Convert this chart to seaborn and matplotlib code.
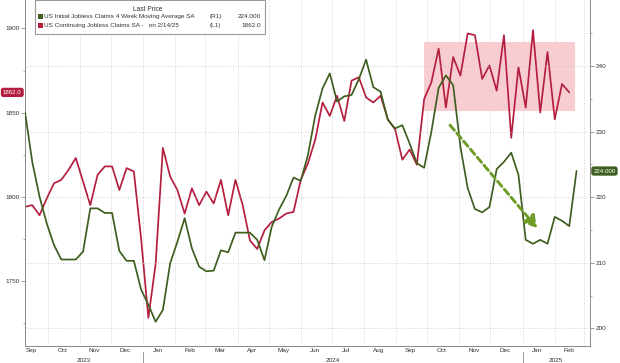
import pandas as pd
import matplotlib
matplotlib.use("Agg")
import matplotlib.pyplot as plt
import matplotlib.dates as mdates
import matplotlib.ticker as mticker
from matplotlib.patches import Rectangle
import seaborn as sns

# weekly values, starting week of 2023-09-09
continuing_claims = [
    1794, 1795, 1789, 1799, 1808, 1810, 1816, 1823, 1809, 1795,
    1813, 1818, 1818, 1804, 1817, 1815, 1775, 1728, 1760, 1829,
    1812, 1804, 1790, 1805, 1795, 1803, 1796, 1810, 1789, 1810,
    1795, 1774, 1769, 1780, 1785, 1787, 1790, 1791, 1810, 1820,
    1834, 1856, 1848, 1860, 1845, 1869, 1871, 1859, 1856, 1860,
    1846, 1840, 1822, 1828, 1819, 1858, 1868, 1888, 1853, 1883,
    1872, 1897, 1896, 1870, 1878, 1863, 1896, 1835, 1877, 1853,
    1899, 1850, 1886, 1846, 1867, 1862,
]
initial_claims_4wk = [
    233.0, 225.4, 220.1, 216.0, 212.7, 210.5, 210.5, 210.5, 211.7, 218.3,
    218.3, 217.6, 217.6, 211.8, 210.3, 210.3, 205.9, 203.6, 201.0, 202.8,
    209.9, 213.2, 216.8, 212.2, 209.4, 208.7, 208.8, 211.9, 211.6, 214.6,
    214.6, 214.6, 213.5, 210.4, 215.5, 218.1, 220.2, 223.0, 222.5, 226.5,
    232.5, 236.6, 238.9, 234.6, 235.4, 235.6, 238.0, 241.0, 236.8, 236.1,
    231.8, 230.5, 231.0, 228.2, 225.2, 224.5, 230.0, 236.7, 238.6, 237.1,
    227.7, 221.4, 218.2, 217.7, 218.5, 224.3, 225.4, 226.8, 223.4, 213.5,
    212.9, 213.5, 212.9, 217.0, 216.4, 215.6, 224.0,
]
first_week = "2023-09-09"
years = ["2023", "2024", "2025"]

# highlighted range and trend arrow
band_dates = ("2024-09-28", "2025-02-21")
band_levels = (1851, 1892)
arrow_from = ("2024-10-23", 231.0)
arrow_to = ("2025-01-15", 215.3)

GREEN = "#3e5f1f"
RED = "#b41f3f"
ARROW = "#6e9c26"
GRID = "#c4c4c4"
SPINE = "#8a8a8a"
TXT = "#333333"

sns.set_style("white")
plt.rcParams["font.family"] = ["Liberation Sans", "DejaVu Sans"]

df_red = pd.DataFrame({
    "date": pd.date_range(first_week, periods=len(continuing_claims), freq="7D"),
    "value": continuing_claims,
})
df_green = pd.DataFrame({
    "date": pd.date_range(first_week, periods=len(initial_claims_4wk), freq="7D"),
    "value": initial_claims_4wk,
})

W, H = 620, 363
fig = plt.figure(figsize=(W / 100, H / 100), dpi=100)
L, R, T, B = 25, 590, 0, 346
ax = fig.add_axes([L / W, 1 - B / H, (R - L) / W, (B - T) / H])
ax2 = ax.twinx()

# pink band behind the continuing claims
ax.fill_between(pd.to_datetime(list(band_dates)), band_levels[0], band_levels[1],
                color="#f7cdd2", lw=0, zorder=1)

sns.lineplot(data=df_red, x="date", y="value", ax=ax, color=RED, lw=1.25, zorder=3)
sns.lineplot(data=df_green, x="date", y="value", ax=ax2, color=GREEN, lw=1.25, zorder=3)

ax.set_xlim(pd.Timestamp("2023-09-09"), pd.Timestamp("2025-03-07"))
ax.set_ylim(1711.3, 1916.9)
ax2.set_ylim(197.3, 250.1)
for a in (ax, ax2):
    a.set_xlabel("")
    a.set_ylabel("")

# y ticks
ax.set_yticks([1750, 1800, 1850, 1900])
ax.yaxis.set_minor_locator(mticker.FixedLocator([1725, 1775, 1825, 1875]))
ax2.set_yticks([200, 210, 220, 230, 240])
ax2.yaxis.set_minor_locator(mticker.FixedLocator([205, 215, 225, 235, 245]))
ax.tick_params(axis="y", which="major", length=3, width=0.6, color=SPINE,
               labelsize=4.6, labelcolor=TXT, pad=1)
ax.tick_params(axis="y", which="minor", length=1.5, width=0.5, color=SPINE)
ax2.tick_params(axis="y", which="major", length=3, width=0.6, color=SPINE,
                labelsize=4.6, labelcolor=TXT, pad=1)
ax2.tick_params(axis="y", which="minor", length=1.5, width=0.5, color=SPINE)

# x ticks: month starts + month names mid-month
ax.xaxis.set_major_locator(mdates.MonthLocator())
ax.xaxis.set_major_formatter(mticker.NullFormatter())
ax.xaxis.set_minor_locator(mdates.MonthLocator(bymonthday=15))
ax.xaxis.set_minor_formatter(mdates.DateFormatter("%b"))
ax.tick_params(axis="x", which="major", length=2.5, width=0.6, color=SPINE)
ax.tick_params(axis="x", which="minor", length=0, labelsize=4.6, labelcolor=TXT, pad=1.5)

# grid
ax.grid(False)
ax2.grid(False)
ax.xaxis.grid(True, which="major", ls=(0, (1, 2)), color=GRID, lw=0.6)
ax2.yaxis.grid(True, which="major", ls=(0, (1, 2)), color=GRID, lw=0.6)

for a in (ax, ax2):
    a.spines["top"].set_visible(False)
    for s in ("left", "right", "bottom"):
        a.spines[s].set_color(SPINE)
        a.spines[s].set_linewidth(0.7)
ax.spines["right"].set_visible(False)

# year labels under the months
trans = ax.get_xaxis_transform()
x0, x1 = ax.get_xlim()
bounds = [x0, mdates.date2num(pd.Timestamp("2024-01-01")),
          mdates.date2num(pd.Timestamp("2025-01-01")), x1]
for i, yr in enumerate(years):
    ax.text((bounds[i] + bounds[i + 1]) / 2, -0.042, yr, transform=trans,
            ha="center", va="center", fontsize=4.6, color=TXT)
for b in bounds[1:3]:
    ax.plot([b, b], [-0.016, -0.06], transform=trans, color=SPINE, lw=0.6, clip_on=False)

# trend arrow
ax2.annotate("", xy=(mdates.date2num(pd.Timestamp(arrow_to[0])), arrow_to[1]),
             xytext=(mdates.date2num(pd.Timestamp(arrow_from[0])), arrow_from[1]),
             arrowprops=dict(arrowstyle="-|>,head_length=0.7,head_width=0.4",
                             color=ARROW, lw=2.1, ls=(0, (2.3, 1.3)),
                             shrinkA=0, shrinkB=0),
             zorder=4)

# last value tags
ax.text(-0.006, continuing_claims[-1], f"{continuing_claims[-1]:.1f}",
        transform=ax.get_yaxis_transform(), ha="right", va="center",
        fontsize=4.4, color="white",
        bbox=dict(boxstyle="round,pad=0.35,rounding_size=0.4", fc=RED, ec="none"))
ax2.text(1.006, initial_claims_4wk[-1], f"{initial_claims_4wk[-1]:.3f}",
         transform=ax2.get_yaxis_transform(), ha="left", va="center",
         fontsize=4.4, color="white",
         bbox=dict(boxstyle="round,pad=0.35,rounding_size=0.4", fc=GREEN, ec="none"))

# legend box
def fx(px):
    return px / W

def fy(py):
    return 1 - py / H

fig.patches.append(Rectangle((fx(35), fy(34)), fx(265) - fx(35), fy(0) - fy(34),
                             transform=fig.transFigure, fc="white", ec="#9a9a9a",
                             lw=0.8, zorder=10))
fig.text(fx(148), fy(9.3), "Last Price", ha="center", va="center", fontsize=4.8,
         color=TXT, zorder=11)
rows = [
    (GREEN, "US Initial Jobless Claims 4 Week Moving Average SA", "(R1)", "224.000", 16.7),
    (RED, "US Continuing Jobless Claims SA -   on 2/14/25", "(L1)", "1862.0", 25.3),
]
for col, label, side, val, py in rows:
    fig.patches.append(Rectangle((fx(38), fy(py + 2.6)), fx(5), fy(0) - fy(5.2),
                                 transform=fig.transFigure, fc=col, ec="none", zorder=11))
    fig.text(fx(44.5), fy(py), label, ha="left", va="center", fontsize=4.6, color=TXT, zorder=11)
    fig.text(fx(210), fy(py), side, ha="left", va="center", fontsize=4.6, color=TXT, zorder=11)
    fig.text(fx(261), fy(py), val, ha="right", va="center", fontsize=4.6, color=TXT, zorder=11)

fig.savefig("out.png", dpi=100)
